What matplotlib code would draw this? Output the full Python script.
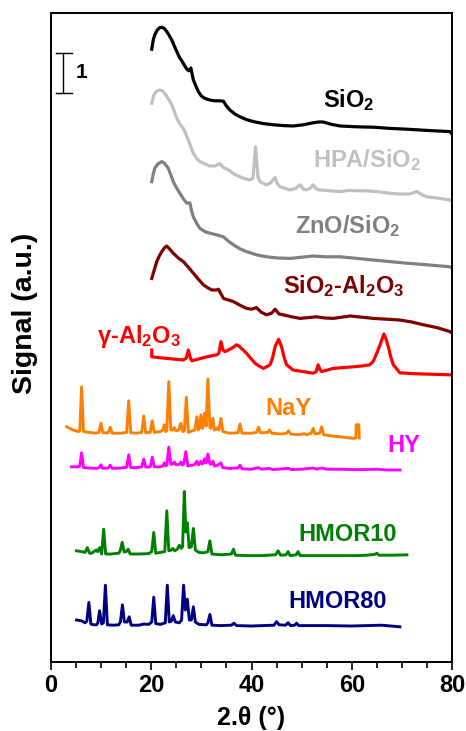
import matplotlib
matplotlib.use("Agg")
import matplotlib.pyplot as plt
from matplotlib.ticker import MultipleLocator

plt.rcParams['font.family'] = ['Liberation Sans', 'DejaVu Sans']
plt.rcParams['font.weight'] = 'bold'
plt.rcParams['mathtext.fontset'] = 'custom'
plt.rcParams['mathtext.rm'] = 'Liberation Sans:bold'
plt.rcParams['mathtext.it'] = 'Liberation Sans:bold'
plt.rcParams['mathtext.bf'] = 'Liberation Sans:bold'
plt.rcParams['mathtext.default'] = 'rm'

# ---------------- data (2theta in degrees, stacked signal in a.u.) ----------------
sio2_x = [20.1, 20.4, 20.7, 21.2, 21.7, 22.1, 22.6, 23.1, 23.6, 24.1, 24.6, 25.1, 25.6, 26.1, 26.6,
          27.1, 27.5, 27.9, 28.4, 28.9, 29.4, 30.0, 30.7, 31.7, 32.7, 33.6, 34.4, 35.0, 35.7, 36.7,
          37.7, 39.0, 40.4, 42.4, 44.4, 46.4, 48.3, 50.3, 52.3, 53.3, 54.3, 56.0, 57.7, 61.0, 64.3,
          67.6, 71.0, 75.0, 79.6, 80.0]
sio2_y = [15.32, 15.55, 15.68, 15.80, 15.86, 15.87, 15.84, 15.76, 15.66, 15.55, 15.40, 15.26, 15.12,
          15.03, 14.92, 14.82, 14.78, 14.85, 14.55, 14.40, 14.26, 14.15, 14.09, 14.05, 14.03, 14.03,
          14.02, 13.90, 13.80, 13.70, 13.63, 13.56, 13.51, 13.46, 13.43, 13.41, 13.40, 13.43, 13.48,
          13.50, 13.50, 13.44, 13.40, 13.38, 13.37, 13.34, 13.32, 13.29, 13.26, 13.20]

hpa_x = [20.1, 20.4, 20.7, 21.2, 21.7, 22.2, 22.7, 23.4, 24.1, 24.6, 25.1, 25.7, 26.4, 26.9, 27.4,
         27.9, 28.4, 29.0, 29.7, 30.7, 31.7, 32.7, 33.7, 34.4, 35.4, 36.5, 37.7, 38.7, 39.7, 40.3,
         40.8, 41.3, 41.7, 42.3, 43.0, 43.8, 44.7, 45.2, 45.7, 46.7, 47.7, 48.8, 49.7, 50.4, 51.0,
         51.7, 52.3, 53.0, 53.7, 55.7, 57.7, 59.4, 61.0, 63.0, 65.0, 67.6, 69.6, 71.5, 73.0, 74.0,
         75.0, 77.0, 79.6, 80.0]
hpa_y = [13.97, 14.12, 14.22, 14.28, 14.30, 14.28, 14.22, 14.08, 13.93, 13.76, 13.59, 13.45, 13.34,
         13.20, 13.05, 12.88, 12.72, 12.60, 12.51, 12.45, 12.40, 12.40, 12.46, 12.36, 12.30, 12.20,
         12.13, 12.08, 12.05, 12.10, 12.88, 12.12, 12.01, 11.97, 11.93, 11.98, 12.11, 11.95, 11.88,
         11.84, 11.80, 11.84, 11.93, 11.82, 11.80, 11.84, 11.93, 11.82, 11.80, 11.78, 11.76, 11.79,
         11.78, 11.78, 11.76, 11.72, 11.70, 11.70, 11.76, 11.68, 11.63, 11.60, 11.55, 11.53]

zno_x = [20.1, 20.4, 20.7, 21.3, 22.1, 22.7, 23.4, 23.9, 24.4, 25.0, 25.7, 26.4, 27.1, 27.7, 28.0,
         28.4, 29.0, 29.7, 30.7, 31.7, 33.0, 34.4, 35.4, 36.4, 37.7, 39.0, 41.0, 43.0, 45.3, 47.7,
         50.0, 52.3, 55.0, 57.7, 61.0, 64.3, 67.6, 71.0, 75.0, 79.6, 80.0]
zno_y = [12.01, 12.20, 12.34, 12.45, 12.51, 12.46, 12.34, 12.18, 12.01, 11.86, 11.72, 11.58, 11.47,
         11.48, 11.30, 11.13, 10.98, 10.84, 10.76, 10.72, 10.68, 10.63, 10.52, 10.43, 10.33, 10.26,
         10.18, 10.13, 10.10, 10.09, 10.12, 10.15, 10.13, 10.13, 10.09, 10.05, 10.01, 9.97, 9.93,
         9.88, 9.85]

sial_x = [20.1, 20.6, 21.1, 21.6, 22.1, 22.6, 23.1, 23.7, 24.4, 25.4, 26.4, 27.4, 28.4, 29.4, 30.4,
          31.2, 32.1, 33.0, 33.4, 34.4, 35.4, 36.4, 37.7, 39.0, 40.0, 41.0, 42.0, 43.0, 44.0, 44.7,
          45.5, 46.3, 48.0, 49.7, 51.3, 53.0, 54.6, 56.3, 58.0, 59.7, 62.0, 64.3, 67.0, 69.6, 72.0,
          74.3, 77.0, 79.6, 80.0]
sial_y = [9.59, 9.80, 10.01, 10.15, 10.26, 10.35, 10.40, 10.32, 10.22, 10.10, 10.01, 9.87, 9.72, 9.57,
          9.43, 9.36, 9.30, 9.30, 9.32, 9.09, 9.05, 9.01, 8.92, 8.84, 8.82, 8.86, 8.74, 8.68, 8.72,
          8.82, 8.70, 8.68, 8.63, 8.59, 8.61, 8.63, 8.60, 8.59, 8.62, 8.65, 8.62, 8.59, 8.57, 8.55,
          8.50, 8.43, 8.36, 8.26, 8.22]

gal_x = [20.1, 20.1, 21.5, 23.1, 24.8, 26.4, 27.0, 27.4, 27.8, 28.1, 29.6, 31.1, 33.1, 33.5, 33.9,
         34.3, 34.7, 35.4, 36.0, 36.5, 37.0, 37.5, 38.0, 39.0, 39.8, 40.7, 41.5, 42.4, 43.7, 44.2,
         44.7, 45.4, 46.0, 46.5, 47.0, 48.3, 50.3, 52.3, 52.9, 53.3, 53.7, 54.0, 56.3, 58.3, 60.3,
         62.0, 63.6, 64.3, 65.0, 65.8, 66.4, 66.9, 67.3, 67.8, 68.3, 69.6, 72.0, 74.3, 77.0, 79.6, 80.0]
gal_y = [7.80, 7.63, 7.61, 7.59, 7.57, 7.55, 7.60, 7.80, 7.60, 7.53, 7.58, 7.63, 7.68, 7.72, 8.01,
         7.80, 7.76, 7.80, 7.84, 7.88, 7.93, 7.90, 7.84, 7.72, 7.60, 7.47, 7.40, 7.34, 7.43, 7.60,
         7.88, 8.07, 7.88, 7.62, 7.43, 7.30, 7.26, 7.22, 7.26, 7.43, 7.30, 7.26, 7.34, 7.36, 7.38,
         7.40, 7.43, 7.52, 7.72, 7.98, 8.20, 8.05, 7.88, 7.62, 7.43, 7.23, 7.21, 7.20, 7.19, 7.18, 7.17]

nay_x = [3.1, 4.4, 5.5, 5.75, 6.1, 6.5, 7.5, 9.0, 9.55, 9.95, 10.35, 11.4, 11.8, 12.2, 14.0, 15.1, 15.5,
         15.9, 17.0, 18.1, 18.5, 18.9, 19.8, 20.2, 20.6, 21.8, 22.3, 22.6, 22.9, 23.1, 23.5, 23.9,
         24.3, 24.6, 24.9, 25.5, 25.9, 26.3, 26.6, 27.0, 27.4, 28.2, 28.7, 29.1, 29.4, 29.6, 29.9,
         30.2, 30.35, 30.65, 30.95, 31.3, 31.7, 31.9, 32.3, 32.6, 33.0, 33.3, 33.5, 33.9, 34.3,
         35.5, 37.3, 37.7, 38.1, 40.0, 41.0, 41.4, 41.8, 43.2, 43.6, 44.0, 46.0, 47.0, 47.4, 47.8,
         49.5, 50.5, 51.0, 51.9, 52.3, 52.7, 53.6, 54.0, 54.4, 56.0, 57.7, 59.0, 60.3, 60.8, 60.9,
         61.4, 61.5]
nay_y = [5.88, 5.80, 5.76, 5.78, 6.88, 5.76, 5.74, 5.72, 5.74, 5.97, 5.73, 5.73, 5.87, 5.72, 5.72,
         5.74, 6.53, 5.73, 5.72, 5.74, 6.15, 5.73, 5.74, 6.03, 5.74, 5.76, 5.80, 5.93, 5.76, 5.78,
         7.01, 5.80, 5.80, 5.86, 5.78, 5.80, 5.97, 5.76, 5.78, 6.62, 5.74, 5.78, 5.80, 6.13, 5.80,
         5.84, 6.18, 5.84, 5.88, 6.22, 5.90, 7.07, 5.86, 5.84, 6.09, 5.80, 5.82, 5.86, 5.80, 6.09,
         5.76, 5.72, 5.73, 5.95, 5.72, 5.72, 5.74, 5.87, 5.73, 5.74, 5.80, 5.72, 5.70, 5.72, 5.78,
         5.70, 5.68, 5.71, 5.68, 5.72, 5.84, 5.70, 5.72, 5.88, 5.68, 5.65, 5.63, 5.61, 5.59, 5.60,
         5.93, 5.93, 5.60]

hy_x = [4.1, 5.5, 5.75, 6.1, 6.5, 7.5, 9.0, 9.6, 9.95, 10.3, 11.4, 11.8, 12.2, 14.0, 15.1, 15.5,
        15.9, 17.0, 18.1, 18.5, 18.9, 19.8, 20.2, 20.6, 21.8, 22.3, 22.6, 22.9, 23.1, 23.5, 23.9,
        24.3, 24.6, 24.9, 25.6, 25.9, 26.2, 26.5, 26.9, 27.3, 28.2, 28.7, 29.1, 29.4, 29.6, 29.9,
        30.2, 30.4, 30.65, 30.95, 31.3, 31.7, 31.9, 32.3, 32.6, 33.3, 33.9, 34.25, 35.5, 37.3, 37.7,
        38.1, 40.0, 41.4, 42.0, 43.6, 44.2, 47.4, 48.0, 50.0, 52.3, 53.0, 54.0, 55.0, 58.0, 60.0,
        62.0, 65.0, 67.0, 69.6]
hy_y = [4.88, 4.88, 4.90, 5.23, 4.86, 4.85, 4.84, 4.86, 4.93, 4.84, 4.85, 4.92, 4.84, 4.85, 4.87,
        5.18, 4.86, 4.86, 4.88, 5.07, 4.87, 4.88, 5.12, 4.88, 4.88, 4.90, 4.98, 4.90, 4.92, 5.37,
        4.94, 4.95, 5.00, 4.93, 4.94, 5.00, 4.92, 4.96, 5.26, 4.90, 4.92, 4.94, 5.02, 4.93, 4.95,
        5.02, 4.95, 4.98, 5.08, 4.98, 5.20, 4.95, 4.94, 5.02, 4.90, 4.92, 4.98, 4.86, 4.84, 4.85,
        4.92, 4.83, 4.82, 4.86, 4.82, 4.84, 4.81, 4.84, 4.81, 4.82, 4.85, 4.82, 4.85, 4.82, 4.82,
        4.81, 4.81, 4.82, 4.80, 4.80]

hmor10_x = [5.1, 6.1, 6.8, 7.25, 7.7, 8.1, 9.0, 9.3, 9.7, 10.1, 10.5, 10.9, 12.0, 13.5, 13.8, 14.2,
            14.6, 15.0, 15.4, 15.8, 17.5, 19.5, 20.1, 20.5, 20.9, 21.8, 22.7, 23.1, 23.5, 24.0,
            24.3, 24.7, 25.2, 25.6, 26.0, 26.25, 26.6, 26.9, 27.2, 27.55, 28.0, 28.4, 28.8, 29.5, 30.5,
            31.3, 31.7, 32.1, 34.0, 36.0, 36.4, 36.8, 39.0, 42.0, 44.8, 45.3, 45.8, 46.9, 47.3, 47.7,
            48.9, 49.3, 49.7, 52.0, 55.0, 58.0, 61.0, 63.0, 64.6, 65.0, 65.4, 68.0, 71.0]
hmor10_y = [2.78, 2.76, 2.74, 2.86, 2.72, 2.72, 2.80, 2.76, 2.86, 2.70, 3.32, 2.70, 2.70, 2.72, 2.78,
            2.99, 2.75, 2.76, 2.82, 2.70, 2.70, 2.71, 2.76, 3.24, 2.72, 2.74, 2.76, 3.78, 2.78, 2.80,
            2.84, 2.78, 2.82, 2.92, 2.84, 2.88, 4.26, 3.25, 3.48, 2.86, 2.88, 3.34, 2.80, 2.74, 2.73,
            2.76, 3.03, 2.70, 2.68, 2.70, 2.82, 2.67, 2.66, 2.66, 2.68, 2.78, 2.67, 2.68, 2.76, 2.66,
            2.68, 2.76, 2.66, 2.66, 2.66, 2.66, 2.66, 2.67, 2.69, 2.72, 2.67, 2.67, 2.68]

hmor80_x = [5.1, 6.1, 6.8, 7.15, 7.55, 7.95, 8.5, 9.1, 9.35, 9.7, 10.1, 10.45, 10.85, 11.25, 12.5, 13.5,
            13.85, 14.25, 14.65, 15.2, 15.6, 16.0, 17.5, 18.5, 19.5, 20.1, 20.5, 20.9, 21.8, 22.8,
            23.2, 23.6, 24.0, 24.4, 24.8, 25.6, 26.05, 26.45, 26.8, 27.2, 27.6, 28.0, 28.4, 28.8,
            29.5, 31.0, 31.3, 31.7, 32.1, 34.0, 36.0, 36.5, 37.0, 40.0, 44.5, 45.0, 45.5, 46.8, 47.3,
            47.8, 48.6, 49.0, 49.4, 55.0, 60.0, 63.0, 66.0, 69.6]
hmor80_y = [1.05, 1.03, 0.98, 1.02, 1.49, 0.95, 0.93, 0.93, 0.98, 1.28, 0.95, 0.98, 1.92, 0.93, 0.92,
            0.93, 1.00, 1.43, 1.00, 1.00, 1.13, 0.92, 0.92, 0.95, 0.94, 1.00, 1.62, 0.96, 0.94, 0.98,
            1.92, 1.00, 1.02, 1.16, 1.00, 0.98, 1.05, 1.92, 1.30, 1.57, 1.05, 1.05, 1.38, 1.00, 0.94,
            0.93, 0.98, 1.19, 0.92, 0.91, 0.92, 0.97, 0.91, 0.90, 0.92, 1.01, 0.93, 0.92, 0.98, 0.91,
            0.92, 0.97, 0.91, 0.91, 0.90, 0.91, 0.92, 0.88]

series_names = ['SiO$_2$', 'HPA/SiO$_2$', 'ZnO/SiO$_2$', 'SiO$_2$-Al$_2$O$_3$', 'γ-Al$_2$O$_3$',
                'NaY', 'HY', 'HMOR10', 'HMOR80']
series_x = [sio2_x, hpa_x, zno_x, sial_x, gal_x, nay_x, hy_x, hmor10_x, hmor80_x]
series_y = [sio2_y, hpa_y, zno_y, sial_y, gal_y, nay_y, hy_y, hmor10_y, hmor80_y]
colors = ['#000000', '#c0c0c0', '#808080', '#800000', '#ff0000', '#ff8000', '#ff00ff', '#008000', '#000080']
label_pos = [(54.3, 13.87), (52.3, 12.38), (48.7, 10.73), (46.3, 9.23), (9.2, 7.98),
             (42.7, 6.18), (67.2, 5.25), (49.3, 3.03), (47.3, 1.35)]
line_w = [2.3, 2.3, 2.3, 2.3, 2.3, 2.1, 2.1, 2.1, 2.1]

xticks = [0, 20, 40, 60, 80]

# ---------------- figure ----------------
fig = plt.figure(figsize=(4.66, 7.31), dpi=100)
ax = fig.add_axes([51/466, 1 - 662/731, (452-51)/466, (662-13)/731])

for xs, ys, c, lw in zip(series_x, series_y, colors, line_w):
    ax.plot(xs, ys, color=c, lw=lw, solid_joinstyle='round')

for name, (tx, ty), c in zip(series_names, label_pos, colors):
    ax.text(tx, ty, name, color=c, fontsize=17, fontweight='bold', ha='left', va='baseline')

# scale bar (1 a.u.)
ax.plot([2.4, 2.4], [14.225, 15.225], color='black', lw=1.0)
ax.plot([1.0, 4.2], [14.225, 14.225], color='black', lw=1.0)
ax.plot([1.0, 4.2], [15.225, 15.225], color='black', lw=1.0)
ax.text(5.0, 14.6, '1', fontsize=15, fontweight='bold', ha='left', va='baseline')

ax.set_xlim(0, 80)
ax.set_ylim(0, (662-13)/40)
ax.set_xticks(xticks)
ax.set_xticklabels([str(t) for t in xticks])
ax.xaxis.set_minor_locator(MultipleLocator(5))
ax.set_yticks([])
ax.tick_params(axis='x', which='major', direction='out', length=6, width=1.2, labelsize=17, pad=3)
ax.tick_params(axis='x', which='minor', direction='out', length=4, width=1.2)
for lab in ax.get_xticklabels():
    lab.set_fontweight('bold')
for sp in ax.spines.values():
    sp.set_linewidth(1.4)

fig.text(251.5/466, 1 - 718/731, '2.θ (°)', fontsize=18, fontweight='bold', ha='center', va='center')
fig.text(25/466, 1 - 313/731, 'Signal (a.u.)', fontsize=20.5, fontweight='bold', ha='center', va='center',
         rotation=90)

fig.savefig('out.png', dpi=100)
